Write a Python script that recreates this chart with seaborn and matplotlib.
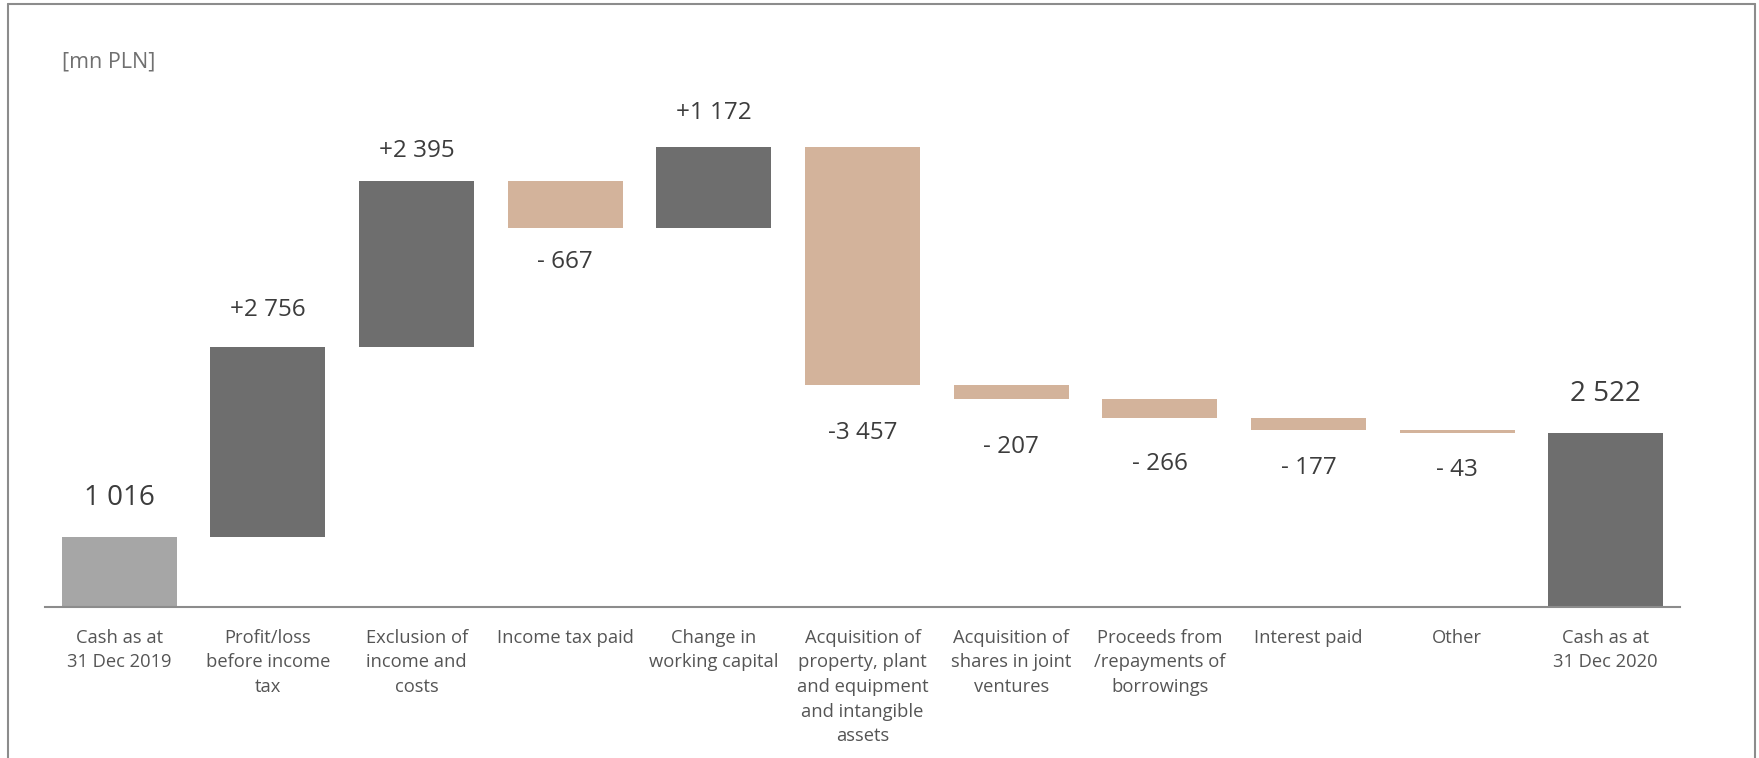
import matplotlib
matplotlib.use('Agg')
import matplotlib.pyplot as plt
from matplotlib.lines import Line2D
import seaborn as sns

# dane: przeplywy pieniezne 2020 [mn PLN]
categories = [
    "Cash as at\n31 Dec 2019",
    "Profit/loss\nbefore income\ntax",
    "Exclusion of\nincome and\ncosts",
    "Income tax paid",
    "Change in\nworking capital",
    "Acquisition of\nproperty, plant\nand equipment\nand intangible\nassets",
    "Acquisition of\nshares in joint\nventures",
    "Proceeds from\n/repayments of\nborrowings",
    "Interest paid",
    "Other",
    "Cash as at\n31 Dec 2020",
]
values = [1016, 2756, 2395, -667, 1172, -3457, -207, -266, -177, -43, 2522]
kinds = ["start", "up", "up", "down", "up", "down", "down", "down", "down", "down", "end"]
value_labels = ["1 016", "+2 756", "+2 395", "- 667", "+1 172", "-3 457",
                "- 207", "- 266", "- 177", "- 43", "2 522"]

colors = {"start": "#a6a6a6", "up": "#6e6e6e", "down": "#d3b39b", "end": "#6e6e6e"}
# odstep etykiety od slupka (pt), jak w oryginale
label_gap = [23, 22.3, 17.3, 16.5, 20, 25.8, 25.5, 24.6, 18.6, 18.3, 23]

# podstawy slupkow (waterfall)
bottoms, heights = [], []
running = 0
for v, k in zip(values, kinds):
    if k in ("start", "end"):
        bottoms.append(0)
        heights.append(v)
        running = v
    else:
        new = running + v
        bottoms.append(min(running, new))
        heights.append(abs(v))
        running = new

sns.set_theme(style="white")
plt.rcParams['font.family'] = ['Open Sans', 'DejaVu Sans']

fig = plt.figure(figsize=(17.59, 7.58), dpi=100)
ax = fig.add_axes([45 / 1759, 151 / 758, 1635 / 1759, 587 / 758])

sns.barplot(x=categories, y=heights, bottom=bottoms, width=0.774,
            color="#6e6e6e", ax=ax, saturation=1)
for p, k in zip(ax.patches, kinds):
    p.set_facecolor(colors[k])
    p.set_edgecolor("none")

ax.set_xlim(-0.5, len(categories) - 0.5)
ax.set_ylim(0, 587 / 0.069)

for i, (b, h, k, lab, g) in enumerate(zip(bottoms, heights, kinds, value_labels, label_gap)):
    if k in ("start", "end"):
        ax.annotate(lab, (i, b + h), xytext=(0, g), textcoords="offset points",
                    ha="center", va="baseline", fontsize=20, color="#3c3c3c")
    elif k == "up":
        ax.annotate(lab, (i, b + h), xytext=(0, g), textcoords="offset points",
                    ha="center", va="baseline", fontsize=17.5, color="#3c3c3c")
    else:
        ax.annotate(lab, (i, b), xytext=(0, -g), textcoords="offset points",
                    ha="center", va="top", fontsize=17.5, color="#3c3c3c")

for s in ["left", "right", "top"]:
    ax.spines[s].set_visible(False)
ax.spines["bottom"].set_color("#8c8c8c")
ax.spines["bottom"].set_linewidth(1.5)
ax.set_yticks([])
ax.tick_params(axis="x", length=0, pad=15.5, labelsize=13.2, labelcolor="#555555")
for t in ax.get_xticklabels():
    t.set_linespacing(1.48)
    t.set_verticalalignment("top")

fig.text(62 / 1759, 1 - 62 / 758, "[mn PLN]", fontsize=15.5, color="#707070",
         ha="left", va="center")

# ramka
fc = "#8c8c8c"
fig.add_artist(Line2D([8 / 1759, 8 / 1759], [0, 1 - 4 / 758], transform=fig.transFigure, color=fc, lw=1.5))
fig.add_artist(Line2D([8 / 1759, 1755 / 1759], [1 - 4 / 758, 1 - 4 / 758], transform=fig.transFigure, color=fc, lw=1.5))
fig.add_artist(Line2D([1755 / 1759, 1755 / 1759], [0, 1 - 4 / 758], transform=fig.transFigure, color=fc, lw=1.5))

fig.savefig("out.png", dpi=100, facecolor="white")
